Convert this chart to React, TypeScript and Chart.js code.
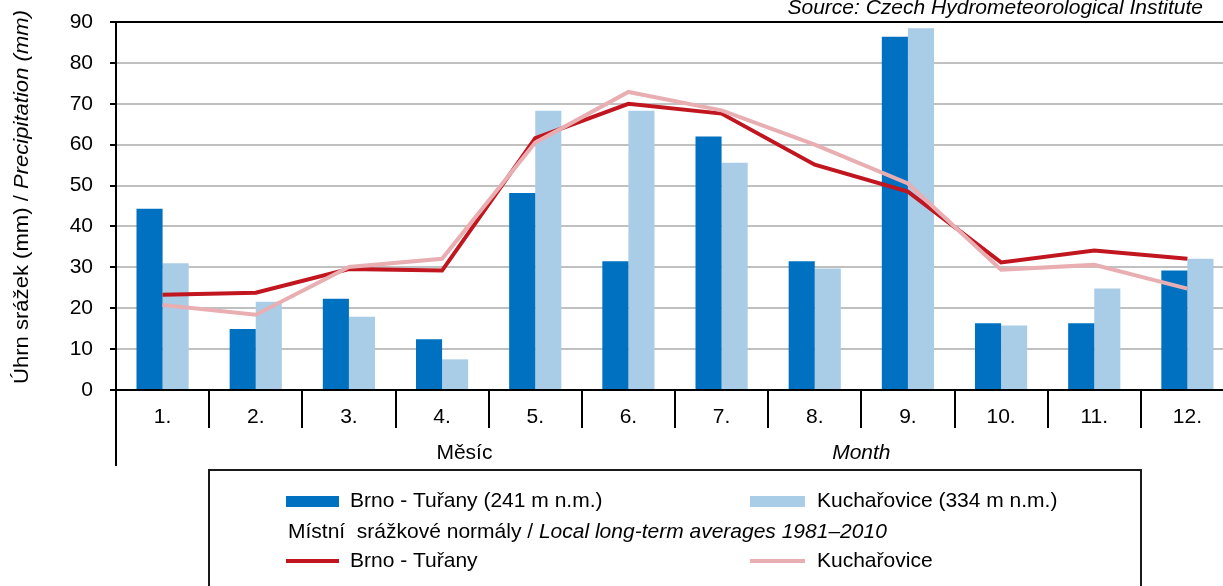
import React, { useEffect, useRef } from 'react';
import { Chart, registerables } from 'chart.js';

Chart.register(...registerables);

const months = ['1.', '2.', '3.', '4.', '5.', '6.', '7.', '8.', '9.', '10.', '11.', '12.'];
const brnoMonthly = [44.3, 14.9, 22.3, 12.4, 48.2, 31.5, 62.0, 31.5, 86.4, 16.3, 16.3, 29.2];
const kuchMonthly = [31.0, 21.6, 17.9, 7.5, 68.3, 68.3, 55.6, 29.7, 88.5, 15.8, 24.8, 32.1];
const brnoNormal = [23.3, 23.8, 29.6, 29.2, 61.6, 70.0, 67.6, 55.1, 48.5, 31.2, 34.1, 32.1];
const kuchNormal = [20.8, 18.4, 30.1, 32.1, 60.5, 72.9, 68.4, 60.0, 50.5, 29.4, 30.6, 24.8];

const yTitleMain = 'Úhrn srážek (mm) / ';
const yTitleItalic = 'Precipitation (mm)';
const xTitleCz = 'Měsíc';
const xTitleEn = 'Month';
const sourceText = 'Source: Czech Hydrometeorological Institute';
const legendBrnoBar = 'Brno - Tuřany (241 m n.m.)';
const legendKuchBar = 'Kuchařovice (334 m n.m.)';
const legendNormMain = 'Místní  srážkové normály / ';
const legendNormItalic = 'Local long-term averages 1981–2010';
const legendBrnoLine = 'Brno - Tuřany';
const legendKuchLine = 'Kuchařovice';

const FONT = '"Liberation Sans", Arial, Helvetica, sans-serif';
const FS = 21;
const DARK_BLUE = '#0070C0';
const LIGHT_BLUE = '#A9CDE7';
const RED = '#C1161F';
const PINK = '#E8AEB2';

const overlay = {
  id: 'overlay',
  afterDraw(chart: any) {
    const { ctx, chartArea } = chart;
    const { left, right, bottom } = chartArea;
    const n = months.length;
    const catW = (right - left) / n;
    const ds = chart.data.datasets;
    ctx.save();

    // category separators below x axis
    ctx.strokeStyle = '#000';
    ctx.lineWidth = 2;
    ctx.beginPath();
    for (let i = 1; i <= n; i++) {
      const x = Math.round(left + i * catW);
      ctx.moveTo(x, bottom);
      ctx.lineTo(x, bottom + 38);
    }
    ctx.moveTo(left, bottom);
    ctx.lineTo(left, bottom + 76);
    ctx.stroke();

    // axis title texts
    ctx.fillStyle = '#000';
    ctx.textBaseline = 'middle';
    ctx.textAlign = 'center';
    ctx.font = `${FS}px ${FONT}`;
    ctx.fillText(xTitleCz, left + 3.74 * catW, bottom + 63);
    ctx.font = `italic ${FS}px ${FONT}`;
    ctx.fillText(xTitleEn, left + 8.0 * catW, bottom + 63);

    // source text
    ctx.textAlign = 'right';
    ctx.textBaseline = 'alphabetic';
    ctx.font = `italic ${FS}px ${FONT}`;
    ctx.fillText(sourceText, 1203, 14);

    // y title
    ctx.save();
    ctx.translate(22, 384);
    ctx.rotate(-Math.PI / 2);
    ctx.textAlign = 'left';
    ctx.textBaseline = 'middle';
    ctx.font = `${FS}px ${FONT}`;
    const w1 = ctx.measureText(yTitleMain).width;
    ctx.font = `italic ${FS}px ${FONT}`;
    const w2 = ctx.measureText(yTitleItalic).width;
    const sx = 374 / (w1 + w2);
    ctx.scale(sx, 1);
    ctx.font = `${FS}px ${FONT}`;
    ctx.fillText(yTitleMain, 0, 0);
    ctx.font = `italic ${FS}px ${FONT}`;
    ctx.fillText(yTitleItalic, w1, 0);
    ctx.restore();

    // legend box
    const bx1 = Math.round(left + catW);
    const bx2 = Math.round(left + 11 * catW);
    const by = bottom + 80;
    ctx.strokeStyle = '#1a1a1a';
    ctx.lineWidth = 2;
    ctx.beginPath();
    ctx.moveTo(bx1, chart.height + 5);
    ctx.lineTo(bx1, by);
    ctx.lineTo(bx2, by);
    ctx.lineTo(bx2, chart.height + 5);
    ctx.stroke();

    const c1 = bx1 + 77;
    const c2 = bx1 + 541;
    const t1 = bx1 + 141;
    const t2 = bx1 + 608;
    const r1 = by + 31.5;
    const r2 = by + 62.5;
    const r3 = by + 91;
    ctx.textAlign = 'left';
    ctx.textBaseline = 'middle';
    ctx.font = `${FS}px ${FONT}`;
    ctx.fillStyle = ds[0].backgroundColor;
    ctx.fillRect(c1, r1 - 5.5, 53, 11);
    ctx.fillStyle = ds[1].backgroundColor;
    ctx.fillRect(c2, r1 - 5.5, 55, 11);
    ctx.fillStyle = '#000';
    ctx.fillText(legendBrnoBar, t1, r1);
    ctx.fillText(legendKuchBar, t2, r1);

    ctx.fillText(legendNormMain, bx1 + 79, r2);
    const wn = ctx.measureText(legendNormMain).width;
    ctx.font = `italic ${FS}px ${FONT}`;
    ctx.fillText(legendNormItalic, bx1 + 79 + wn, r2);

    ctx.font = `${FS}px ${FONT}`;
    ctx.lineWidth = 4;
    ctx.strokeStyle = ds[2].borderColor;
    ctx.beginPath();
    ctx.moveTo(c1, r3);
    ctx.lineTo(c1 + 53, r3);
    ctx.stroke();
    ctx.strokeStyle = ds[3].borderColor;
    ctx.beginPath();
    ctx.moveTo(c2, r3);
    ctx.lineTo(c2 + 55, r3);
    ctx.stroke();
    ctx.fillStyle = '#000';
    ctx.fillText(legendBrnoLine, t1, r3);
    ctx.fillText(legendKuchLine, t2, r3);

    ctx.restore();
  },
};

export default function App() {
  const canvasRef = useRef<HTMLCanvasElement | null>(null);

  useEffect(() => {
    const canvas = canvasRef.current;
    if (!canvas) return;
    const chart = new Chart(canvas, {
      type: 'bar',
      data: {
        labels: months,
        datasets: [
          {
            type: 'bar',
            label: legendBrnoBar,
            data: brnoMonthly,
            backgroundColor: DARK_BLUE,
            categoryPercentage: 0.56,
            barPercentage: 1,
            order: 2,
          },
          {
            type: 'bar',
            label: legendKuchBar,
            data: kuchMonthly,
            backgroundColor: LIGHT_BLUE,
            categoryPercentage: 0.56,
            barPercentage: 1,
            order: 2,
          },
          {
            type: 'line',
            label: legendBrnoLine,
            data: brnoNormal,
            borderColor: RED,
            backgroundColor: RED,
            borderWidth: 4,
            pointRadius: 0,
            tension: 0,
            order: 1,
          },
          {
            type: 'line',
            label: legendKuchLine,
            data: kuchNormal,
            borderColor: PINK,
            backgroundColor: PINK,
            borderWidth: 4,
            pointRadius: 0,
            tension: 0,
            order: 0,
          },
        ],
      } as any,
      options: {
        responsive: false,
        animation: false,
        devicePixelRatio: 1,
        layout: { autoPadding: false, padding: { top: 22, right: 6, left: 0, bottom: 0 } },
        plugins: {
          legend: { display: false },
          tooltip: { enabled: false },
          title: { display: false },
        },
        scales: {
          x: {
            grid: { display: false, drawTicks: false },
            border: { display: true, color: '#000', width: 2 },
            ticks: {
              color: '#000',
              font: { family: FONT, size: FS },
              padding: 15,
              maxRotation: 0,
              autoSkip: false,
            },
            afterFit: (scale: any) => {
              scale.height = 196;
              scale.paddingLeft = 0;
              scale.paddingRight = 0;
            },
          },
          y: {
            min: 0,
            max: 90,
            ticks: {
              stepSize: 10,
              color: '#000',
              font: { family: FONT, size: FS },
              padding: 17,
            },
            grid: {
              color: (c: any) => (c.tick && c.tick.value === 90 ? '#000' : '#C0C0C0'),
              lineWidth: 2,
              tickColor: '#000',
              tickLength: 6,
            },
            border: { display: true, color: '#000', width: 2 },
            afterFit: (scale: any) => {
              scale.width = 116;
              scale.paddingTop = 0;
              scale.paddingBottom = 0;
            },
          },
        },
      } as any,
      plugins: [overlay],
    });
    return () => chart.destroy();
  }, []);

  return (
    <div
      style={{
        position: 'absolute',
        left: 0,
        top: 0,
        width: 1223,
        height: 586,
        overflow: 'hidden',
        background: '#fff',
      }}
    >
      <canvas ref={canvasRef} width={1240} height={586} style={{ display: 'block' }} />
    </div>
  );
}
